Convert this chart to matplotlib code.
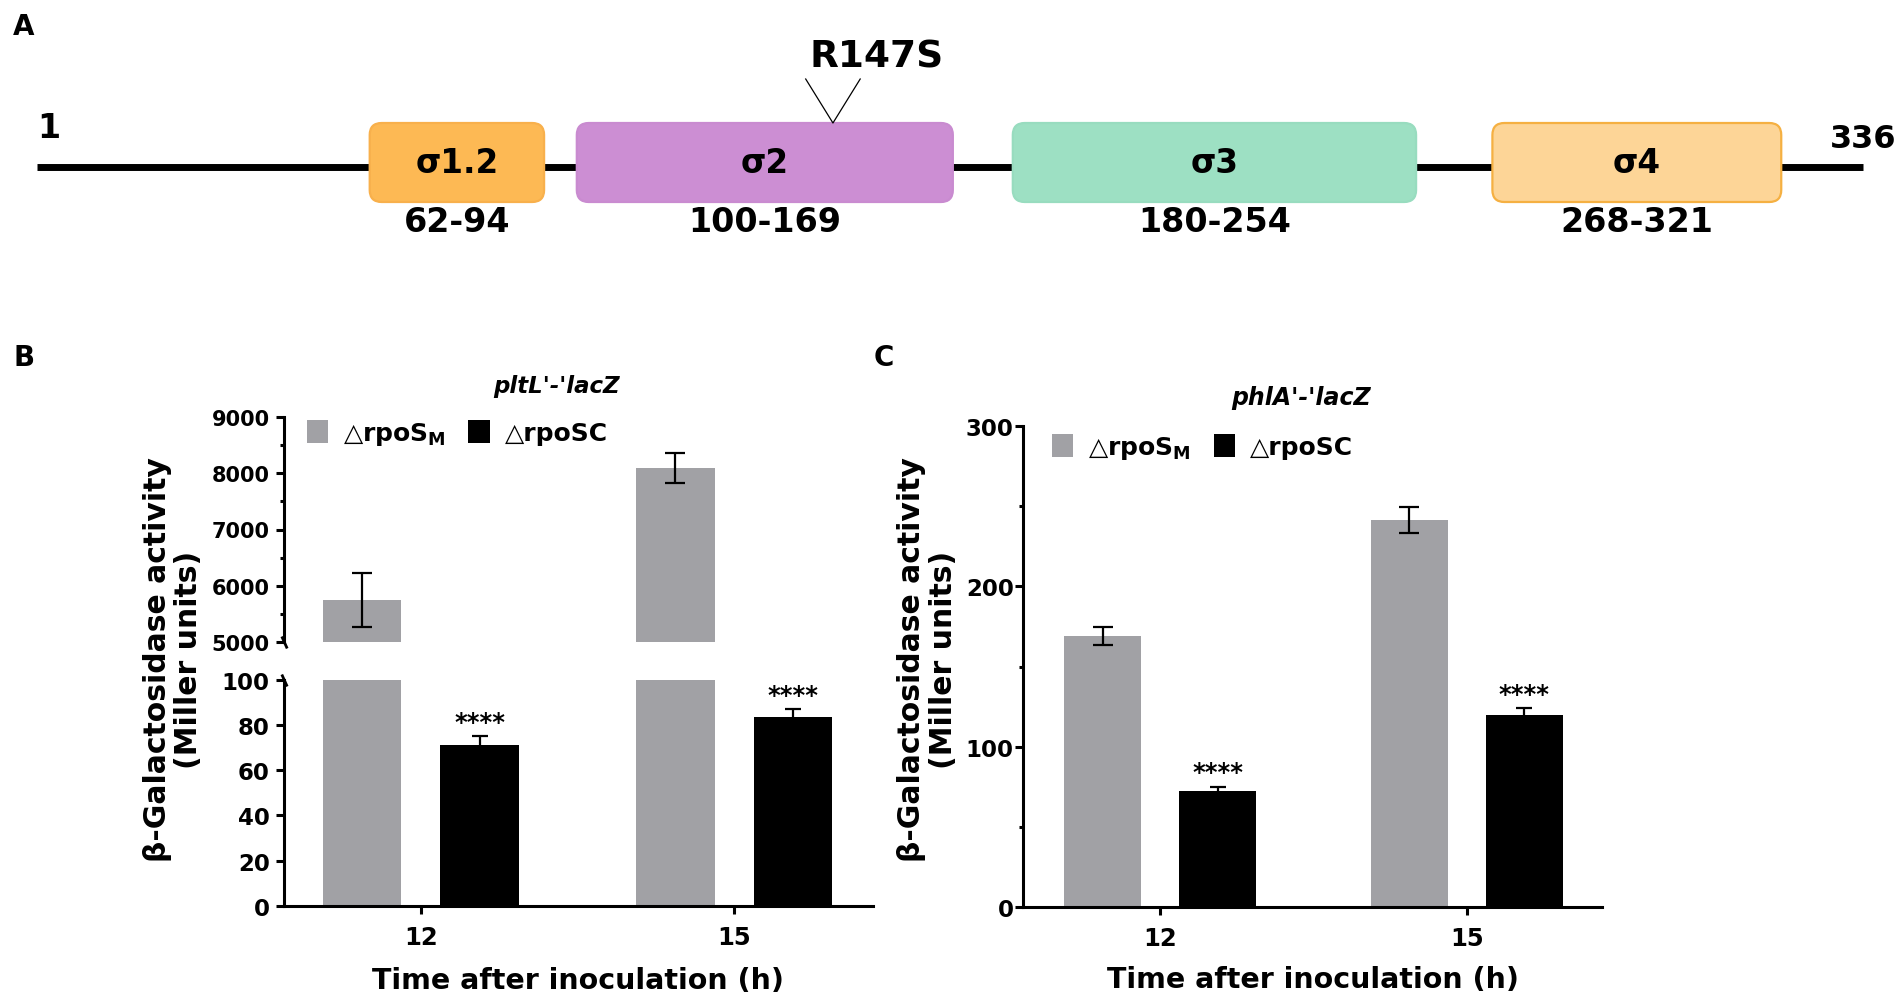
import matplotlib
matplotlib.use('Agg')
import matplotlib.pyplot as plt
import numpy as np
from matplotlib.patches import FancyBboxPatch, Patch
from matplotlib.ticker import MultipleLocator

# ---------------- data ----------------
# Panel A: RpoS domain map
protein_length = 336
domain_names = ['σ1.2', 'σ2', 'σ3', 'σ4']
domain_starts = [62, 100, 180, 268]
domain_ends = [94, 169, 254, 321]
domain_faces = ['#FDB954', '#CC8ED3', '#9DE0C3', '#FDD597']
domain_edges = ['#F8B04C', '#C98BD0', '#98DCBF', '#F5B042']
mutation_label = 'R147S'
mutation_pos = 147

# Panels B / C
time_labels = ['12', '15']
legend_labels = ['△rpoS$_{\\mathbf{M}}$', '△rpoSC']
pltL_rpoSM = [5750, 8090]
pltL_rpoSM_err = [475, 265]
pltL_rpoSC = [71.3, 83.6]
pltL_rpoSC_err = [3.8, 3.4]
phlA_rpoSM = [169.0, 241.4]
phlA_rpoSM_err = [5.8, 8.2]
phlA_rpoSC = [72.3, 119.8]
phlA_rpoSC_err = [2.7, 4.2]
stars = ['****', '****']

# ---------------- style ----------------
plt.rcParams['font.family'] = ['DejaVu Sans']
plt.rcParams['font.weight'] = 'bold'
plt.rcParams['mathtext.fontset'] = 'dejavusans'

GRAY = '#A1A1A5'
W, H = 1904, 1004
fig = plt.figure(figsize=(W / 100, H / 100), dpi=100)


def fx(px):
    return px / W


def fy(py):
    return 1 - py / H


# ---------------- Panel A ----------------
axA = fig.add_axes([0, fy(260), 1, 260 / H])
px_per_res = 5.45
x_off = 31.8
axA.set_xlim(-x_off / px_per_res, (W - x_off) / px_per_res)
axA.set_ylim(260, 0)
axA.axis('off')

axA.plot([1, protein_length], [168, 168], color='black', lw=5,
         solid_capstyle='butt', zorder=1)
box_top, box_h = 124, 79
rnd = 12 / px_per_res
for name, s, e, fc, ec in zip(domain_names, domain_starts, domain_ends,
                              domain_faces, domain_edges):
    p = FancyBboxPatch((s, box_top), e - s, box_h,
                       boxstyle=f'round,pad=0,rounding_size={rnd}',
                       mutation_aspect=px_per_res,
                       facecolor=fc, edgecolor=ec, lw=1.6, zorder=2)
    axA.add_patch(p)
    axA.text((s + e) / 2, box_top + box_h / 2, name, ha='center', va='center',
             fontsize=23.5, fontweight='bold', zorder=3)
    axA.text((s + e) / 2, 223, f'{s}-{e}', ha='center', va='center',
             fontsize=24, fontweight='bold')

axA.annotate('1', xy=(1, 128), xytext=(8, 0), textcoords='offset points',
             ha='center', va='center', fontsize=24, fontweight='bold')
axA.text(protein_length, 139, str(protein_length), ha='center', va='center',
         fontsize=23, fontweight='bold')
axA.plot([mutation_pos - 5, mutation_pos, mutation_pos + 5], [80, box_top, 80],
         color='black', lw=0.9, zorder=3)
axA.text(mutation_pos + 8, 58, mutation_label, ha='center', va='center',
         fontsize=27, fontweight='bold')

# ---------------- helpers for bar panels ----------------
x = np.arange(len(time_labels))
off, bw = 0.1875, 0.25


def bars(ax, sm, sm_err, sc, sc_err):
    ax.bar(x - off, sm, bw, color=GRAY, zorder=2)
    ax.errorbar(x - off, sm, yerr=sm_err, fmt='none', ecolor='black',
                elinewidth=1.6, capsize=7, capthick=1.6, zorder=3)
    ax.bar(x + off, sc, bw, color='black', zorder=2)
    ax.errorbar(x + off, sc, yerr=sc_err, fmt='none', ecolor='black',
                elinewidth=1.6, capsize=6, capthick=1.6, zorder=3)


def style(ax, labelsize, pad):
    for sp in ['top', 'right']:
        ax.spines[sp].set_visible(False)
    for sp in ['left', 'bottom']:
        ax.spines[sp].set_linewidth(2.2)
    ax.tick_params(axis='y', which='major', length=5.8, width=2.2,
                   labelsize=labelsize, pad=pad)
    ax.tick_params(axis='y', which='minor', length=3, width=2.2)
    ax.tick_params(axis='x', which='major', length=5.8, width=2.2,
                   labelsize=17.5, pad=8)
    for t in ax.get_yticklabels() + ax.get_xticklabels():
        t.set_fontweight('bold')


def stars_on(ax, vals, errs):
    for xi, v, e, s in zip(x, vals, errs, stars):
        ax.annotate(s, xy=(xi + off, v + e), xytext=(0, 5.4),
                    textcoords='offset points', ha='center', va='baseline',
                    fontsize=17.5, fontweight='bold', annotation_clip=False)


def legend(ax, anchor):
    h = [Patch(facecolor=GRAY, edgecolor='none'),
         Patch(facecolor='black', edgecolor='none')]
    leg = ax.legend(h, legend_labels, loc='center left', bbox_to_anchor=anchor,
                    ncol=2, frameon=False, prop={'size': 18, 'weight': 'bold'},
                    handlelength=0.85, handleheight=1.0, handletextpad=0.6,
                    columnspacing=0.9, borderpad=0, borderaxespad=0)
    return leg


# ---------------- Panel B (broken axis) ----------------
bl, br = 284, 873
axBu = fig.add_axes([fx(bl), fy(643), (br - bl) / W, (643 - 418) / H])
axBl = fig.add_axes([fx(bl), fy(906.7), (br - bl) / W, (906.7 - 681) / H])
for ax in (axBu, axBl):
    bars(ax, pltL_rpoSM, pltL_rpoSM_err, pltL_rpoSC, pltL_rpoSC_err)
    ax.set_xlim(-0.437, 1.443)

axBu.set_ylim(5000, 9000)
axBu.set_yticks(np.arange(5000, 9001, 1000))
axBu.yaxis.set_minor_locator(MultipleLocator(500))
axBu.spines['bottom'].set_visible(False)
axBu.set_xticks([])
style(axBu, 15, 4.5)

axBl.set_ylim(0, 100)
axBl.set_yticks(np.arange(0, 101, 20))
axBl.set_xticks(x)
axBl.set_xticklabels(time_labels)
style(axBl, 16.5, 4.5)
stars_on(axBl, pltL_rpoSC, pltL_rpoSC_err)

brk = [(-0.45, 1), (0.45, -1)]
axBu.plot([0], [0], transform=axBu.transAxes, marker=brk, markersize=8.6,
          linestyle='none', color='black', mec='black', mew=2, clip_on=False)
axBl.plot([0], [1], transform=axBl.transAxes, marker=brk, markersize=8.6,
          linestyle='none', color='black', mec='black', mew=2, clip_on=False)

legend(axBu, (0.039, 0.927))
axBl.set_xlabel('Time after inoculation (h)', fontsize=20.5, fontweight='bold')
axBl.xaxis.label.set_va('center')
axBl.xaxis.set_label_coords(0.5, -(981 - 906.7) / (906.7 - 681))

# ---------------- Panel C ----------------
cl, cr = 1023.3, 1602
axC = fig.add_axes([fx(cl), fy(908.3), (cr - cl) / W, (908.3 - 426.7) / H])
bars(axC, phlA_rpoSM, phlA_rpoSM_err, phlA_rpoSC, phlA_rpoSC_err)
axC.set_xlim(-0.446, 1.441)
axC.set_ylim(0, 300)
axC.set_yticks([0, 100, 200, 300])
axC.yaxis.set_minor_locator(MultipleLocator(50))
axC.set_xticks(x)
axC.set_xticklabels(time_labels)
style(axC, 16.5, 1)
stars_on(axC, phlA_rpoSC, phlA_rpoSC_err)
legend(axC, (0.0496, 0.9547))
axC.set_xlabel('Time after inoculation (h)', fontsize=20.5, fontweight='bold')
axC.xaxis.label.set_va('center')
axC.xaxis.set_label_coords(0.5, -(980 - 908.3) / (908.3 - 426.7))

# ---------------- figure texts ----------------
ylab = 'β-Galactosidase activity\n(Miller units)'
for xc in (173, 927.5):
    fig.text(fx(xc), fy(660), ylab, rotation=90, ha='center', va='center',
             multialignment='center', fontsize=21.5, fontweight='bold',
             linespacing=1.1)

fig.text(fx(557), fy(386), "pltL'-'lacZ", ha='center', va='center',
         fontsize=16.5, fontweight='bold', style='italic')
fig.text(fx(1301), fy(398), "phlA'-'lacZ", ha='center', va='center',
         fontsize=17, fontweight='bold', style='italic')

for lab, (px, py) in zip(['A', 'B', 'C'], [(24, 27), (24, 358), (884, 358)]):
    fig.text(fx(px), fy(py), lab, ha='center', va='center', fontsize=20,
             fontweight='bold')

fig.savefig('out.png', dpi=100, facecolor='white')
